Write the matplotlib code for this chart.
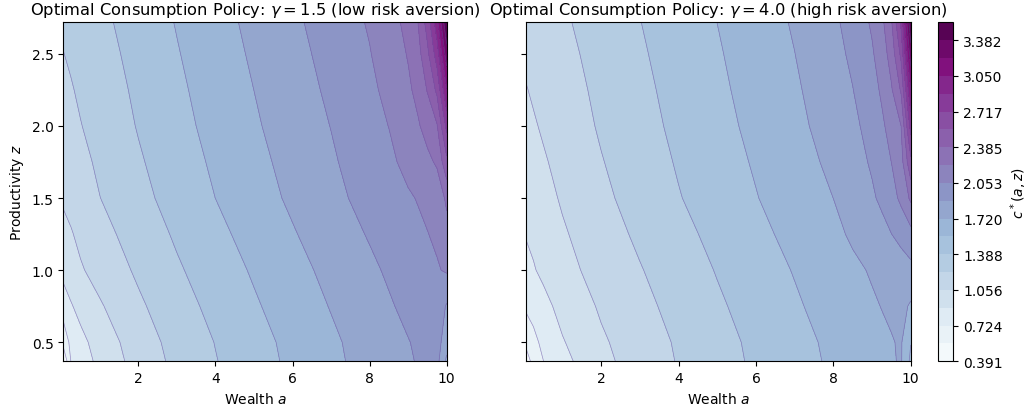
import numpy as np
import matplotlib
matplotlib.use("Agg")
import matplotlib.pyplot as plt

# grid nodes (wealth a, productivity z)
wealth = [0.05, 0.25, 0.5, 1, 2, 3, 4, 5, 6, 7, 8, 8.5, 9, 9.25, 9.5, 9.75, 10]
productivity = [0.368, 0.5, 0.75, 1.0, 1.25, 1.5, 1.75, 2.0, 2.25, 2.5, 2.718]

# consumption policy, gamma = 1.5 (rows = productivity, cols = wealth)
c_low = [
    [0.392, 0.730, 0.804, 0.935, 1.122, 1.263, 1.381, 1.486, 1.588, 1.685, 1.779, 1.825, 1.871, 1.895, 1.918, 1.941, 1.68],
    [0.609, 0.768, 0.843, 0.962, 1.142, 1.278, 1.393, 1.497, 1.597, 1.693, 1.788, 1.834, 1.881, 1.905, 1.928, 1.950, 1.80],
    [0.803, 0.876, 0.942, 1.039, 1.195, 1.323, 1.433, 1.535, 1.633, 1.728, 1.823, 1.871, 1.921, 1.946, 1.971, 1.995, 1.87],
    [0.937, 0.983, 1.040, 1.115, 1.248, 1.368, 1.472, 1.572, 1.668, 1.763, 1.857, 1.907, 1.960, 1.987, 2.013, 2.040, 2.07],
    [1.015, 1.044, 1.092, 1.168, 1.295, 1.410, 1.514, 1.612, 1.708, 1.803, 1.899, 1.948, 1.998, 2.024, 2.049, 2.075, 2.16],
    [1.074, 1.105, 1.143, 1.220, 1.341, 1.451, 1.555, 1.651, 1.747, 1.843, 1.940, 1.988, 2.036, 2.060, 2.084, 2.110, 2.251],
    [1.112, 1.142, 1.180, 1.250, 1.370, 1.478, 1.580, 1.676, 1.771, 1.867, 1.970, 2.022, 2.094, 2.130, 2.181, 2.242, 2.509],
    [1.149, 1.179, 1.217, 1.279, 1.398, 1.504, 1.605, 1.701, 1.795, 1.890, 1.999, 2.055, 2.151, 2.200, 2.277, 2.373, 2.767],
    [1.184, 1.211, 1.245, 1.304, 1.418, 1.524, 1.625, 1.721, 1.816, 1.914, 2.023, 2.088, 2.191, 2.262, 2.395, 2.586, 3.04],
    [1.219, 1.243, 1.273, 1.329, 1.439, 1.545, 1.645, 1.742, 1.837, 1.937, 2.046, 2.122, 2.230, 2.325, 2.513, 2.800, 3.309],
    [1.250, 1.271, 1.298, 1.351, 1.457, 1.563, 1.662, 1.760, 1.856, 1.958, 2.067, 2.151, 2.265, 2.380, 2.617, 2.988, 3.545],
]

# consumption policy, gamma = 4.0
c_high = [
    [0.45, 0.624, 0.720, 0.842, 1.013, 1.130, 1.232, 1.325, 1.414, 1.496, 1.579, 1.621, 1.663, 1.684, 1.705, 1.735, 1.52],
    [0.595, 0.681, 0.760, 0.878, 1.033, 1.142, 1.241, 1.333, 1.422, 1.504, 1.587, 1.629, 1.671, 1.692, 1.712, 1.735, 1.56],
    [0.748, 0.780, 0.841, 0.940, 1.076, 1.178, 1.273, 1.365, 1.451, 1.534, 1.618, 1.660, 1.703, 1.724, 1.744, 1.766, 1.70],
    [0.829, 0.878, 0.922, 1.001, 1.118, 1.213, 1.305, 1.397, 1.480, 1.563, 1.648, 1.691, 1.734, 1.755, 1.776, 1.797, 1.84],
    [0.899, 0.922, 0.963, 1.037, 1.153, 1.250, 1.343, 1.431, 1.514, 1.599, 1.685, 1.742, 1.800, 1.836, 1.885, 1.942, 2.00],
    [0.936, 0.966, 1.004, 1.073, 1.187, 1.286, 1.380, 1.464, 1.548, 1.634, 1.721, 1.793, 1.865, 1.917, 1.993, 2.086, 2.25],
    [0.973, 1.004, 1.039, 1.102, 1.214, 1.310, 1.402, 1.486, 1.570, 1.657, 1.754, 1.821, 1.906, 1.970, 2.054, 2.153, 2.514],
    [1.011, 1.041, 1.073, 1.130, 1.240, 1.333, 1.423, 1.507, 1.592, 1.680, 1.787, 1.849, 1.947, 2.023, 2.115, 2.219, 2.78],
    [1.048, 1.074, 1.102, 1.154, 1.258, 1.351, 1.439, 1.524, 1.610, 1.699, 1.811, 1.883, 1.991, 2.077, 2.202, 2.405, 3.05],
    [1.085, 1.106, 1.131, 1.179, 1.275, 1.369, 1.456, 1.540, 1.627, 1.719, 1.835, 1.916, 2.035, 2.131, 2.289, 2.590, 3.31],
    [1.118, 1.135, 1.157, 1.200, 1.291, 1.385, 1.470, 1.555, 1.643, 1.736, 1.856, 1.946, 2.074, 2.178, 2.365, 2.754, 3.52],
]

gammas = ["1.5", "4.0"]
aversion = ["low risk aversion", "high risk aversion"]
c_min, c_max, n_levels = 0.39144, 3.54791, 20

A, Z = np.meshgrid(np.array(wealth), np.array(productivity))
levels = np.linspace(c_min, c_max, n_levels)

fig = plt.figure(figsize=(10.32, 4.14), dpi=100)
ax1 = fig.add_axes([0.0613, 0.1249, 0.3715, 0.8188])
ax2 = fig.add_axes([0.5094, 0.1249, 0.3731, 0.8188], sharey=ax1)
cax = fig.add_axes([0.9092, 0.1249, 0.0145, 0.8188])

cf = None
for ax, data, g, av in zip([ax1, ax2], [c_low, c_high], gammas, aversion):
    C = np.array(data)
    cf = ax.contourf(A, Z, C, levels=levels, cmap="BuPu")
    ax.contour(A, Z, C, levels=levels, colors="#6a51a3", linewidths=0.5, alpha=0.6)
    ax.set_title(f"Optimal Consumption Policy: $\\gamma = {g}$ ({av})", fontsize=11.7)
    ax.set_xlabel("Wealth $a$", fontsize=10)
    ax.set_xlim(wealth[0], wealth[-1])
    ax.set_ylim(productivity[0], productivity[-1])

ax1.set_ylabel("Productivity $z$", fontsize=10)
plt.setp(ax2.get_yticklabels(), visible=False)

cb = fig.colorbar(cf, cax=cax)
cb.set_label("$c^*(a,z)$", fontsize=10)

fig.savefig("out.png", dpi=100)
